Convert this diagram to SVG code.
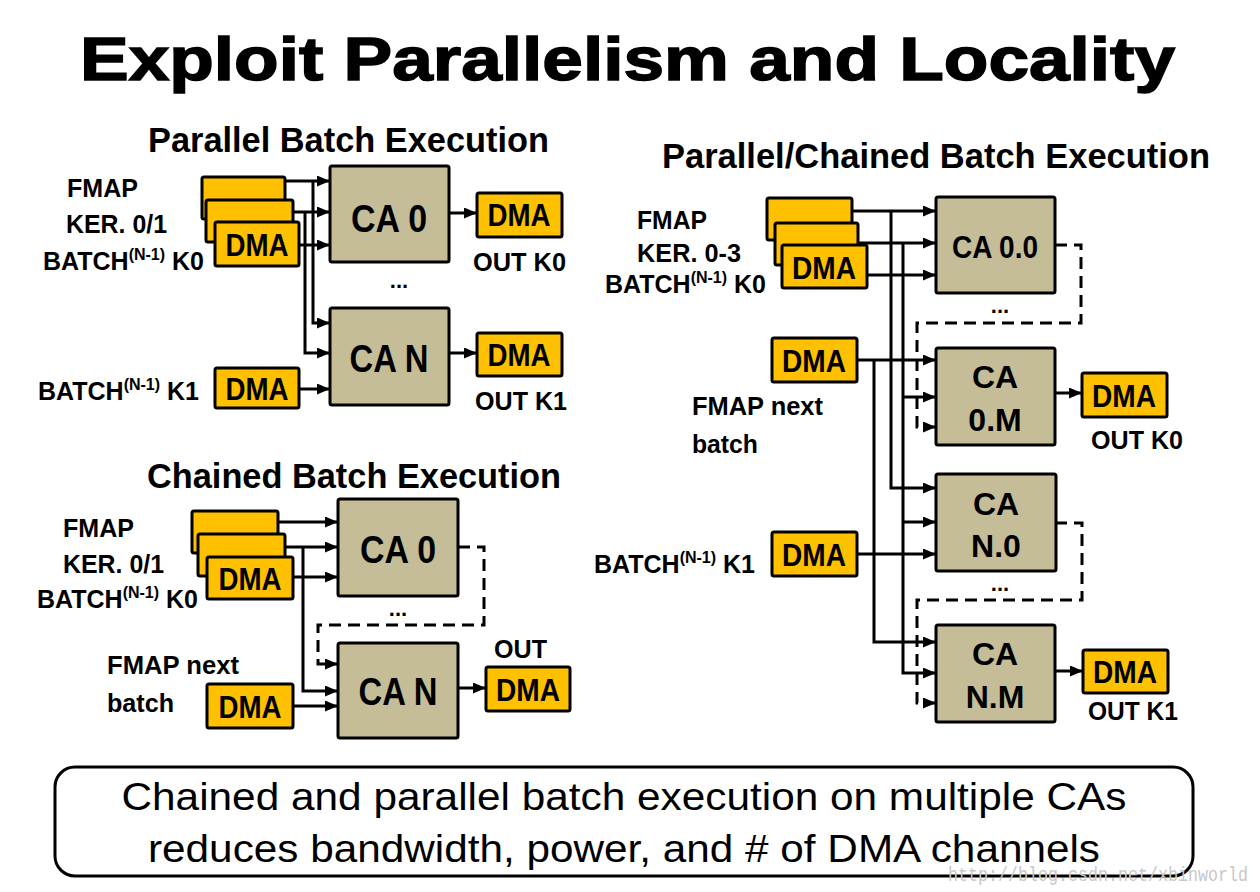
<svg xmlns="http://www.w3.org/2000/svg" width="1260" height="892" viewBox="0 0 1260 892">
<defs>
<marker id="ah" markerUnits="userSpaceOnUse" markerWidth="13" markerHeight="11" refX="13" refY="5.5" orient="auto"><path d="M0,0 L13,5.5 L0,11 z" fill="#000"/></marker>
<style>
.t{font-family:"Liberation Sans",Arial,sans-serif;font-weight:bold;fill:#000}
.lab{font-size:25px}
.sup{font-size:16px}
.dma{fill:#FFC000;stroke:#000;stroke-width:3}
.ca{fill:#C4BD97;stroke:#000;stroke-width:3}
.dt{font-size:31px;text-anchor:middle}
.ct{font-size:38px;text-anchor:middle}
.ct2{font-size:32px;text-anchor:middle}
.w{fill:none;stroke:#000;stroke-width:3;marker-end:url(#ah)}
.d{fill:none;stroke:#000;stroke-width:3;stroke-dasharray:12 7;marker-end:url(#ah)}
.h{font-size:35px}
</style>
</defs>
<rect width="1260" height="892" fill="#fff"/>
<g id="title"><text class="t" x="80" y="80" font-size="62" textLength="1095" lengthAdjust="spacingAndGlyphs" stroke="#000" stroke-width="1.5">Exploit Parallelism and Locality</text></g>
<g id="headings">
<text class="t h" x="148" y="152" textLength="401" lengthAdjust="spacingAndGlyphs">Parallel Batch Execution</text>
<text class="t h" x="147" y="488" textLength="414" lengthAdjust="spacingAndGlyphs">Chained Batch Execution</text>
<text class="t h" x="662" y="168" textLength="548" lengthAdjust="spacingAndGlyphs">Parallel/Chained Batch Execution</text>
</g>
<g id="connectors">
<path class="w" d="M285,181 H330"/>
<path class="w" d="M293,212 H330"/>
<path class="w" d="M299,245 H330"/>
<path class="w" d="M313,181 V323 H330"/>
<path class="w" d="M305,212 V353 H330"/>
<path class="w" d="M299,389 H330"/>
<path class="w" d="M449,213 H477"/>
<path class="w" d="M449,353 H477"/>
<path class="w" d="M278,522 H338"/>
<path class="w" d="M285,547 H338"/>
<path class="w" d="M293,577 H338"/>
<path class="w" d="M303,547 V691 H338"/>
<path class="w" d="M293,706 H338"/>
<path class="w" d="M458,688 H486"/>
<path class="d" d="M458,547 H484 V625 H318 V664 H338"/>
<path class="w" d="M852,211 H936"/>
<path class="w" d="M858,243 H936"/>
<path class="w" d="M867,275 H936"/>
<path class="w" d="M891,211 V488 H936"/>
<path class="w" d="M903,243 V673 H936"/>
<path class="w" d="M903,397 H936"/>
<path class="w" d="M903,522 H936"/>
<path class="w" d="M857,360 H936"/>
<path class="w" d="M874,360 V642 H936"/>
<path class="w" d="M857,554 H936"/>
<path class="w" d="M1055,393 H1082"/>
<path class="w" d="M1055,671 H1083"/>
<path class="d" d="M1055,245 H1081 V323 H917 V427 H936"/>
<path class="d" d="M1055,523 H1082 V600 H917 V703 H936"/>
</g>
<g id="pb-labels">
<text class="t lab" x="67" y="197" textLength="71" lengthAdjust="spacingAndGlyphs">FMAP</text>
<text class="t lab" x="66" y="233" textLength="101" lengthAdjust="spacingAndGlyphs">KER. 0/1</text>
<text class="t lab" x="43" y="270">BATCH<tspan class="sup" dy="-10">(N-1)</tspan><tspan dy="10"> K0</tspan></text>
<text class="t lab" x="38" y="400">BATCH<tspan class="sup" dy="-10">(N-1)</tspan><tspan dy="10"> K1</tspan></text>
</g>
<g id="pb-dma-in">
<rect class="dma" x="202" y="177" width="83" height="42" rx="2"/>
<rect class="dma" x="206" y="200" width="87" height="42" rx="2"/>
<rect class="dma" x="215" y="222" width="84" height="44" rx="2"/>
<text class="t dt" x="257" y="256" textLength="63" lengthAdjust="spacingAndGlyphs">DMA</text>
</g>
<g id="pb-dma-k1"><rect class="dma" x="215" y="368" width="84" height="40" rx="2"/><text class="t dt" x="257" y="400" textLength="63" lengthAdjust="spacingAndGlyphs">DMA</text></g>
<g id="pb-ca0"><rect class="ca" x="330" y="166" width="119" height="96" rx="2"/><text class="t ct" x="389" y="232" textLength="76" lengthAdjust="spacingAndGlyphs">CA 0</text></g>
<g id="pb-can"><rect class="ca" x="330" y="308" width="119" height="97" rx="2"/><text class="t ct" x="389" y="372" textLength="79" lengthAdjust="spacingAndGlyphs">CA N</text></g>
<g id="pb-dots"><text class="t" x="399" y="288" font-size="22" text-anchor="middle">...</text></g>
<g id="pb-out0"><rect class="dma" x="477" y="193" width="85" height="44" rx="2"/><text class="t dt" x="519" y="226" textLength="63" lengthAdjust="spacingAndGlyphs">DMA</text><text class="t lab" x="473" y="271" textLength="93" lengthAdjust="spacingAndGlyphs">OUT K0</text></g>
<g id="pb-out1"><rect class="dma" x="477" y="333" width="85" height="43" rx="2"/><text class="t dt" x="519" y="366" textLength="63" lengthAdjust="spacingAndGlyphs">DMA</text><text class="t lab" x="475" y="410" textLength="92" lengthAdjust="spacingAndGlyphs">OUT K1</text></g>
<g id="cb-labels">
<text class="t lab" x="63" y="537" textLength="71" lengthAdjust="spacingAndGlyphs">FMAP</text>
<text class="t lab" x="63" y="573" textLength="101" lengthAdjust="spacingAndGlyphs">KER. 0/1</text>
<text class="t lab" x="37" y="608">BATCH<tspan class="sup" dy="-10">(N-1)</tspan><tspan dy="10"> K0</tspan></text>
<text class="t lab" x="107" y="674" textLength="132" lengthAdjust="spacingAndGlyphs">FMAP next</text>
<text class="t lab" x="107" y="712" textLength="67" lengthAdjust="spacingAndGlyphs">batch</text>
</g>
<g id="cb-dma-in">
<rect class="dma" x="192" y="511" width="86" height="42" rx="2"/>
<rect class="dma" x="198" y="534" width="87" height="42" rx="2"/>
<rect class="dma" x="207" y="557" width="86" height="42" rx="2"/>
<text class="t dt" x="250" y="590" textLength="63" lengthAdjust="spacingAndGlyphs">DMA</text>
</g>
<g id="cb-dma-next"><rect class="dma" x="207" y="684" width="86" height="44" rx="2"/><text class="t dt" x="250" y="718" textLength="63" lengthAdjust="spacingAndGlyphs">DMA</text></g>
<g id="cb-ca0"><rect class="ca" x="338" y="499" width="120" height="97" rx="2"/><text class="t ct" x="398" y="563" textLength="76" lengthAdjust="spacingAndGlyphs">CA 0</text></g>
<g id="cb-can"><rect class="ca" x="338" y="643" width="120" height="95" rx="2"/><text class="t ct" x="398" y="705" textLength="79" lengthAdjust="spacingAndGlyphs">CA N</text></g>
<g id="cb-dots"><text class="t" x="398" y="616" font-size="22" text-anchor="middle">...</text></g>
<g id="cb-out"><rect class="dma" x="486" y="667" width="84" height="44" rx="2"/><text class="t dt" x="528" y="701" textLength="64" lengthAdjust="spacingAndGlyphs">DMA</text><text class="t lab" x="494" y="658" textLength="53" lengthAdjust="spacingAndGlyphs">OUT</text></g>
<g id="pc-labels">
<text class="t lab" x="637" y="229" textLength="70" lengthAdjust="spacingAndGlyphs">FMAP</text>
<text class="t lab" x="637" y="262" textLength="104" lengthAdjust="spacingAndGlyphs">KER. 0-3</text>
<text class="t lab" x="605" y="293">BATCH<tspan class="sup" dy="-10">(N-1)</tspan><tspan dy="10"> K0</tspan></text>
<text class="t lab" x="692" y="415" textLength="131" lengthAdjust="spacingAndGlyphs">FMAP next</text>
<text class="t lab" x="692" y="453" textLength="66" lengthAdjust="spacingAndGlyphs">batch</text>
<text class="t lab" x="594" y="573">BATCH<tspan class="sup" dy="-10">(N-1)</tspan><tspan dy="10"> K1</tspan></text>
</g>
<g id="pc-dma-in">
<rect class="dma" x="767" y="198" width="85" height="42" rx="2"/>
<rect class="dma" x="775" y="223" width="83" height="42" rx="2"/>
<rect class="dma" x="782" y="245" width="85" height="43" rx="2"/>
<text class="t dt" x="824" y="279" textLength="64" lengthAdjust="spacingAndGlyphs">DMA</text>
</g>
<g id="pc-dma-next"><rect class="dma" x="772" y="338" width="85" height="44" rx="2"/><text class="t dt" x="814" y="372" textLength="64" lengthAdjust="spacingAndGlyphs">DMA</text></g>
<g id="pc-dma-k1"><rect class="dma" x="772" y="532" width="85" height="44" rx="2"/><text class="t dt" x="814" y="566" textLength="64" lengthAdjust="spacingAndGlyphs">DMA</text></g>
<g id="pc-ca00"><rect class="ca" x="936" y="197" width="119" height="96" rx="2"/><text class="t ct2" x="995" y="258" textLength="86" lengthAdjust="spacingAndGlyphs">CA 0.0</text></g>
<g id="pc-ca0m"><rect class="ca" x="936" y="348" width="119" height="97" rx="2"/><text class="t ct2" x="995" y="388">CA</text><text class="t ct2" x="995" y="431">0.M</text></g>
<g id="pc-can0"><rect class="ca" x="936" y="474" width="120" height="97" rx="2"/><text class="t ct2" x="996" y="515">CA</text><text class="t ct2" x="996" y="557">N.0</text></g>
<g id="pc-canm"><rect class="ca" x="936" y="625" width="119" height="97" rx="2"/><text class="t ct2" x="995" y="665">CA</text><text class="t ct2" x="995" y="708">N.M</text></g>
<g id="pc-dots"><text class="t" x="1000" y="313" font-size="22" text-anchor="middle">...</text><text class="t" x="1000" y="591" font-size="22" text-anchor="middle">...</text></g>
<g id="pc-out0"><rect class="dma" x="1082" y="373" width="85" height="44" rx="2"/><text class="t dt" x="1124" y="407" textLength="64" lengthAdjust="spacingAndGlyphs">DMA</text><text class="t lab" x="1091" y="449" textLength="92" lengthAdjust="spacingAndGlyphs">OUT K0</text></g>
<g id="pc-out1"><rect class="dma" x="1083" y="650" width="85" height="43" rx="2"/><text class="t dt" x="1125" y="683" textLength="64" lengthAdjust="spacingAndGlyphs">DMA</text><text class="t lab" x="1088" y="720" textLength="90" lengthAdjust="spacingAndGlyphs">OUT K1</text></g>
<g id="summary">
<rect x="55" y="767" width="1138" height="109" rx="20" fill="#fff" stroke="#000" stroke-width="3"/>
<text x="624" y="810" font-family="Liberation Sans,Arial,sans-serif" font-size="38" text-anchor="middle" textLength="1005" lengthAdjust="spacingAndGlyphs">Chained and parallel batch execution on multiple CAs</text>
<text x="624" y="862" font-family="Liberation Sans,Arial,sans-serif" font-size="38" text-anchor="middle" textLength="952" lengthAdjust="spacingAndGlyphs">reduces bandwidth, power, and # of DMA channels</text>
</g>
<g id="watermark"><text x="948" y="881" font-family="Liberation Mono,monospace" font-size="20" fill="#c8c8c8" textLength="300" lengthAdjust="spacingAndGlyphs">http://blog.csdn.net/xbinworld</text></g>
</svg>
